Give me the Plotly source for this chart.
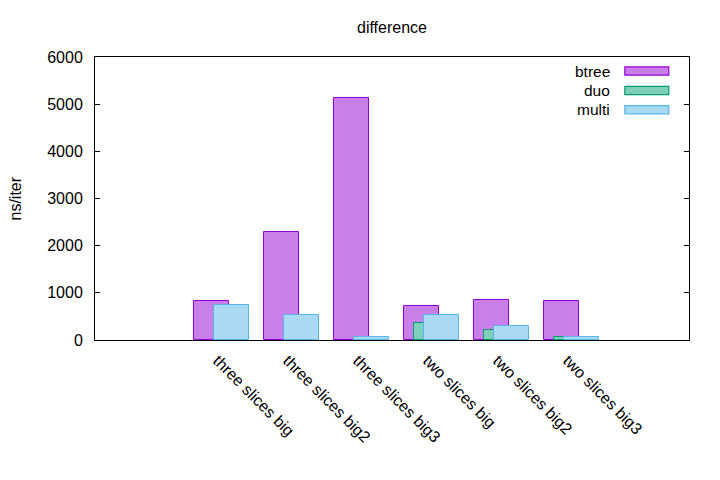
import plotly.graph_objects as go

categories = ["three slices big", "three slices big2", "three slices big3",
              "two slices big", "two slices big2", "two slices big3"]
btree = [820, 2283, 5124, 714, 841, 820]
duo = [None, None, None, 354, 205, 57]
multi = [735, 523, 57, 523, 290, 57]

series = [
    ("btree", btree, "#9400d3", "#c97fe9", -0.393),
    ("duo", duo, "#009e73", "#7fceb9", -0.25),
    ("multi", multi, "#56b4e9", "#aad9f4", -0.107),
]

xpos = list(range(len(categories)))
font = "Liberation Sans, Arial, sans-serif"

fig = go.Figure()
for name, vals, line, fill, off in series:
    fig.add_trace(go.Bar(
        x=xpos, y=vals, name=name, width=0.5, offset=off,
        marker=dict(color=fill, line=dict(color=line, width=1)),
        showlegend=False))

# custom gnuplot-style legend (text left, sample right)
rows = [0.9505, 0.8816, 0.8138]
for (name, vals, line, fill, off), yy in zip(series, rows):
    fig.add_shape(type="rect", xref="paper", yref="paper",
                  x0=0.892, x1=0.966, y0=yy - 0.0145, y1=yy + 0.0145,
                  fillcolor=fill, line=dict(color=line, width=1.2))
    fig.add_annotation(x=0.8697, y=yy, xref="paper", yref="paper",
                       text=name, showarrow=False, xanchor="right",
                       yanchor="middle", font=dict(family=font, size=15.5, color="black"))

fig.add_annotation(x=0, y=0.5, xref="paper", yref="paper", text="ns/iter",
                   textangle=-90, showarrow=False, xshift=-80,
                   xanchor="center", yanchor="middle",
                   font=dict(family=font, size=16, color="black"))

# page has an 8px body offset, so the figure is 712x472 with shifted margins
fig.update_layout(
    width=712, height=472,
    margin=dict(l=87, r=31, t=49, b=140),
    paper_bgcolor="white", plot_bgcolor="white",
    barmode="overlay", bargap=0,
    font=dict(family=font, size=16, color="black"),
    title=dict(text="difference", x=0.5, xref="paper", y=1 - 19 / 472,
               yref="container", xanchor="center", yanchor="middle",
               font=dict(family=font, size=16, color="black")),
    xaxis=dict(range=[-1.81, 6.676], tickvals=xpos, ticktext=categories,
               tickangle=45, ticks="", showline=True, linecolor="black",
               linewidth=1, mirror=True, showgrid=False, zeroline=False,
               ticklabelshift=-4, ticklabelstandoff=4,
               tickfont=dict(family=font, size=16, color="black")),
    yaxis=dict(range=[0, 6000], tickvals=[0, 1000, 2000, 3000, 4000, 5000, 6000],
               ticks="inside", ticklen=5, tickcolor="black", showline=True,
               linecolor="black", linewidth=1, mirror="ticks", showgrid=False,
               zeroline=False, ticklabelstandoff=8,
               tickfont=dict(family=font, size=16, color="black")),
)

fig.write_html("out.html")
